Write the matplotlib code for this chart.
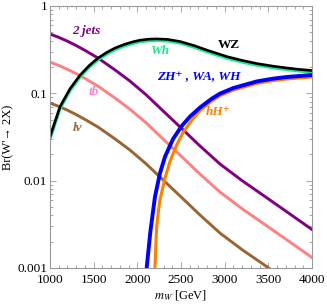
import matplotlib
matplotlib.use("Agg")
import matplotlib.pyplot as plt
from matplotlib.ticker import FixedLocator, FixedFormatter, NullFormatter, MultipleLocator

plt.rcParams['mathtext.fontset'] = 'stix'
SERIF = ['Liberation Serif', 'DejaVu Serif']

# ---------------- data ----------------
mass_f = [1000, 1100, 1200, 1300, 1400, 1550, 1750, 1916, 2100, 2282, 2397, 2511, 2717, 2947,
          3200, 3462, 3730, 4000]
br_2jets = [0.478, 0.4375, 0.3954, 0.3524, 0.3105, 0.2535, 0.1837, 0.138, 0.0964, 0.0647, 0.0504,
            0.0393, 0.0250, 0.0155, 0.0100, 0.00658, 0.00427, 0.00276]
br_tb = [0.228, 0.2087, 0.1886, 0.1681, 0.1481, 0.121, 0.0876, 0.0658, 0.046, 0.0309, 0.0240,
         0.01875, 0.0119, 0.0074, 0.00477, 0.00314, 0.00204, 0.00132]
br_lv = [0.0774, 0.0709, 0.0641, 0.0571, 0.0503, 0.0411, 0.0298, 0.0224, 0.0156, 0.0105, 0.00816,
         0.00637, 0.00405, 0.00251, 0.00162, 0.00107, 0.00069, 0.000447]

mass_b = [1000, 1115, 1230, 1344, 1450, 1550, 1650, 1744, 1850, 1950, 2031, 2130, 2225, 2350,
          2489, 2650, 2798, 3027, 3200, 3370, 3550, 3714, 3850, 4000]
br_WZ = [0.0318, 0.0703, 0.113, 0.1614, 0.2084, 0.2535, 0.294, 0.330, 0.363, 0.389, 0.406, 0.417,
         0.420, 0.414, 0.392, 0.352, 0.312, 0.263, 0.238, 0.219, 0.205, 0.195, 0.188, 0.1825]
br_Wh = [0.0307, 0.0678, 0.109, 0.1557, 0.2011, 0.2446, 0.2837, 0.3185, 0.3503, 0.3754, 0.3918,
         0.4024, 0.4053, 0.3995, 0.3783, 0.3397, 0.3011, 0.2538, 0.2297, 0.2113, 0.1978, 0.1882,
         0.1814, 0.1761]

mass_new = [2107, 2150, 2202, 2259, 2317, 2408, 2508, 2603, 2717, 2850, 2947, 3100, 3370, 3550,
            3714, 4000]
br_new = [0.001, 0.00265, 0.00655, 0.01213, 0.01884, 0.0299, 0.0422, 0.0542, 0.0687, 0.0865,
          0.0993, 0.115, 0.137, 0.147, 0.154, 0.162]

mass_hH = [2202, 2214, 2222, 2240, 2259, 2317, 2374, 2451, 2523, 2622, 2717, 2850, 2947, 3100,
           3370, 3550, 3714, 4000]
br_hH = [0.001, 0.0021, 0.00296, 0.00437, 0.0060, 0.0107, 0.0166, 0.0257, 0.0355, 0.049, 0.0631,
         0.0813, 0.094, 0.109, 0.130, 0.1396, 0.146, 0.154]

ytick_vals = [0.001, 0.01, 0.1, 1]
ytick_labels = ['0.001', '0.01', '0.1', '1']
xtick_vals = [1000, 1500, 2000, 2500, 3000, 3500, 4000]

# colours
c_purple = '#800080'
c_pink = '#ff8080'
c_brown = '#996633'
c_blue = '#0000ff'
c_orange = '#ff8000'
c_green = '#1ee68c'

# ---------------- figure ----------------
fig = plt.figure(figsize=(3.27, 3.05), dpi=100)
ax = fig.add_axes([50/327, 1-268/305, 262/327, 262/305])

ax.plot(mass_f, br_2jets, color=c_purple, lw=2.1)
ax.plot(mass_f, br_tb, color=c_pink, lw=2.1)
ax.plot(mass_f, br_lv, color=c_brown, lw=2.1)
ax.plot(mass_b, br_Wh, color=c_green, lw=2.6)
ax.plot(mass_b, br_WZ, color='black', lw=1.9)
ax.plot(mass_hH, br_hH, color=c_orange, lw=2.2)
ax.plot(mass_new, br_new, color=c_blue, lw=2.8)

ax.set_yscale('log')
ax.set_xlim(1000, 4000)
ax.set_ylim(0.001, 1)

ax.yaxis.set_major_locator(FixedLocator(ytick_vals))
ax.yaxis.set_major_formatter(FixedFormatter(ytick_labels))
ax.yaxis.set_minor_formatter(NullFormatter())
ax.xaxis.set_major_locator(FixedLocator(xtick_vals))
ax.xaxis.set_minor_locator(MultipleLocator(100))

for sp in ax.spines.values():
    sp.set_color('#999999')
    sp.set_linewidth(0.8)
ax.tick_params(which='both', direction='in', top=True, right=True, color='#999999', width=0.6)
ax.tick_params(which='major', length=4, labelsize=9.5, pad=2)
ax.tick_params(axis='x', which='major', pad=4)
ax.tick_params(which='minor', length=2)
for lab in ax.get_xticklabels() + ax.get_yticklabels():
    lab.set_family(SERIF)

ax.set_ylabel("Br(W'\u2192 2X)", family=SERIF, fontsize=9, labelpad=2)
ax.set_xlabel("$m_{W'}$[GeV]", family=SERIF, fontsize=9, labelpad=2)

# curve labels
def lab(x, y, s, c, **kw):
    ax.text(x, y, s, color=c, family=SERIF, fontsize=9.5, fontweight='bold',
            ha='center', va='center', **kw)

lab(1410, 0.52, '2 jets', c_purple, style='italic')
lab(2260, 0.305, 'Wh', c_green, style='italic')
lab(3050, 0.36, 'WZ', 'black')
lab(2700, 0.154, 'ZH\u207a , WA, WH', c_blue, style='italic')
lab(1505, 0.103, 'tb', '#ff80c8', style='italic')
lab(1320, 0.040, 'l\u03bd', c_brown, style='italic')
lab(2925, 0.061, 'hH\u207a', c_orange, style='italic')

fig.savefig('out.png', dpi=100)
